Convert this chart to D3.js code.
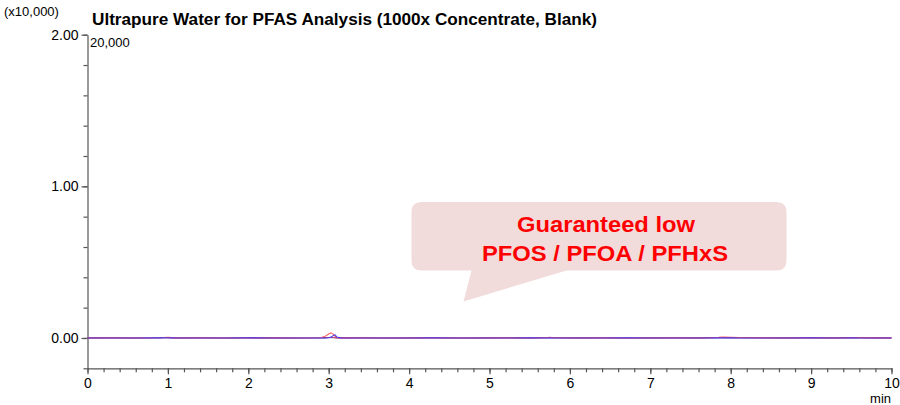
<!DOCTYPE html>
<html>
<head>
<meta charset="utf-8">
<script src="https://cdn.jsdelivr.net/npm/d3@7"></script>
<style>
  html, body { margin: 0; padding: 0; background: #fff; }
  svg { display: block; font-family: Arial, "Liberation Sans", sans-serif; }
</style>
</head>
<body>
<svg id="chart" width="900" height="405"></svg>
<script>
// ---- data (intensity in counts; axis shows x10,000) ----
const times = [0,0.3,0.6,0.9,0.95,1.0,1.05,1.1,1.4,1.7,2.0,2.3,2.6,2.9,2.95,3.0,3.03,3.06,3.08,3.1,3.15,3.4,3.7,4.0,4.3,4.6,4.9,5.2,5.5,5.7,5.75,5.8,6.1,6.4,6.7,7.0,7.3,7.6,7.85,7.9,8.0,8.1,8.4,8.7,9.0,9.3,9.55,9.6,9.8,10.0];
const grayTrace    = [0,5,-5,0,5,10,5,0,-5,0,5,0,-5,0,5,10,15,10,5,0,0,5,-5,0,5,-5,0,5,0,5,10,5,0,5,-5,0,5,0,10,10,5,5,0,-5,5,0,10,5,0,0];
const crimsonTrace = [5,10,0,10,20,25,15,5,10,0,10,5,0,10,20,30,40,30,15,5,5,10,0,5,10,0,5,15,5,10,25,10,5,10,0,5,10,5,20,30,25,20,10,5,10,5,20,15,5,5];
const redTrace     = [0,5,-5,10,30,40,25,0,5,-5,0,5,-5,15,90,260,340,240,110,30,5,5,-5,0,5,-5,0,5,0,15,45,10,0,5,-5,0,5,0,40,55,50,35,5,0,5,0,35,25,5,0];
const blueTrace    = [0,-5,0,5,10,15,5,0,-5,0,5,0,-5,0,0,15,60,170,210,70,5,0,-5,0,5,0,-5,0,5,0,10,0,-5,0,5,0,-5,0,5,10,5,0,-5,0,5,0,5,0,-5,0];
const seriesList = [
  {name: "gray", values: grayTrace, color: "#8c8cb4"},
  {name: "crimson", values: crimsonTrace, color: "#b03a6a"},
  {name: "red", values: redTrace, color: "#ff4a4a"},
  {name: "blue", values: blueTrace, color: "#3a3aff"}
];
const xMajor = [0,1,2,3,4,5,6,7,8,9,10];
const yMajor = [0, 10000, 20000];
const titleText = "Ultrapure Water for PFAS Analysis (1000x Concentrate, Blank)";
const calloutLines = ["Guaranteed low", "PFOS / PFOA / PFHxS"];

const svg = d3.select("#chart");
const x = d3.scaleLinear().domain([0, 10]).range([87.5, 891.5]);
const y = d3.scaleLinear().domain([-2000, 20000]).range([368.3, 34.7]);
const axisColor = "#555";

// title & labels
svg.append("text").attr("x", 92).attr("y", 25)
  .attr("font-size", 16).attr("font-weight", "bold").attr("fill", "#000")
  .attr("textLength", 505).attr("lengthAdjust", "spacingAndGlyphs")
  .text(titleText);
svg.append("text").attr("x", 4).attr("y", 16).attr("font-size", 13).attr("fill", "#000").text("(x10,000)");
svg.append("text").attr("x", 90).attr("y", 47).attr("font-size", 13).attr("fill", "#000").text("20,000");

// Y axis
const yMinorVals = d3.range(-2000, 20001, 2000);
const yMinor = d3.axisLeft(y).tickValues(yMinorVals).tickSize(4).tickFormat("");
const gyMinor = svg.append("g").attr("transform", `translate(${x(0)},0)`).call(yMinor);
const yAx = d3.axisLeft(y).tickValues(yMajor).tickSize(6).tickSizeOuter(0).tickPadding(3)
  .tickFormat(d => (d / 10000).toFixed(2));
const gy = svg.append("g").attr("transform", `translate(${x(0)},0)`).call(yAx);

// X axis
const xMinorVals = d3.range(0, 50.5, 1).map(d => d / 5);
const xMinor = d3.axisBottom(x).tickValues(xMinorVals).tickSize(4).tickFormat("");
const gxMinor = svg.append("g").attr("transform", `translate(0,${y(-2000)})`).call(xMinor);
const xAx = d3.axisBottom(x).tickValues(xMajor).tickSize(6).tickSizeOuter(0).tickPadding(4)
  .tickFormat(d3.format("d"));
const gx = svg.append("g").attr("transform", `translate(0,${y(-2000)})`).call(xAx);

[gyMinor, gy, gxMinor, gx].forEach(g => {
  g.selectAll("path").attr("stroke", axisColor).attr("stroke-width", 1.2);
  g.selectAll("line").attr("stroke", axisColor).attr("stroke-width", 1.2);
  g.selectAll("text").attr("fill", "#000").attr("font-size", 14).attr("font-family", "Arial, 'Liberation Sans', sans-serif");
});
gxMinor.select("path").remove();
gyMinor.select("path").remove();

svg.append("text").attr("x", 891).attr("y", 403).attr("text-anchor", "end")
  .attr("font-size", 13).attr("fill", "#000").text("min");

// traces
const line = d3.line().x((d, i) => x(times[i])).y(d => y(d));
seriesList.forEach(s => {
  svg.append("path").datum(s.values)
    .attr("d", line).attr("fill", "none")
    .attr("stroke", s.color).attr("stroke-width", 1.1).attr("stroke-opacity", 0.9);
});

// callout bubble
const bx0 = 411.5, by0 = 202, bx1 = 786.5, by1 = 270.5, r = 10;
const tipX = 463.5, tipY = 301.5, tailL = 471.5, tailR = 566.5;
const p = d3.path();
p.moveTo(bx0 + r, by0);
p.lineTo(bx1 - r, by0);
p.quadraticCurveTo(bx1, by0, bx1, by0 + r);
p.lineTo(bx1, by1 - r);
p.quadraticCurveTo(bx1, by1, bx1 - r, by1);
p.lineTo(tailR, by1);
p.lineTo(tipX, tipY);
p.lineTo(tailL, by1);
p.lineTo(bx0 + r, by1);
p.quadraticCurveTo(bx0, by1, bx0, by1 - r);
p.lineTo(bx0, by0 + r);
p.quadraticCurveTo(bx0, by0, bx0 + r, by0);
p.closePath();
svg.append("path").attr("d", p.toString()).attr("fill", "#f2dcdb").attr("stroke", "none");

svg.append("text").attr("x", 606).attr("y", 231.5).attr("text-anchor", "middle")
  .attr("font-size", 22).attr("font-weight", "bold").attr("fill", "#ff0000")
  .attr("textLength", 178).attr("lengthAdjust", "spacingAndGlyphs")
  .text(calloutLines[0]);
svg.append("text").attr("x", 605).attr("y", 260.5).attr("text-anchor", "middle")
  .attr("font-size", 22).attr("font-weight", "bold").attr("fill", "#ff0000")
  .attr("textLength", 246).attr("lengthAdjust", "spacingAndGlyphs")
  .text(calloutLines[1]);
</script>
</body>
</html>
